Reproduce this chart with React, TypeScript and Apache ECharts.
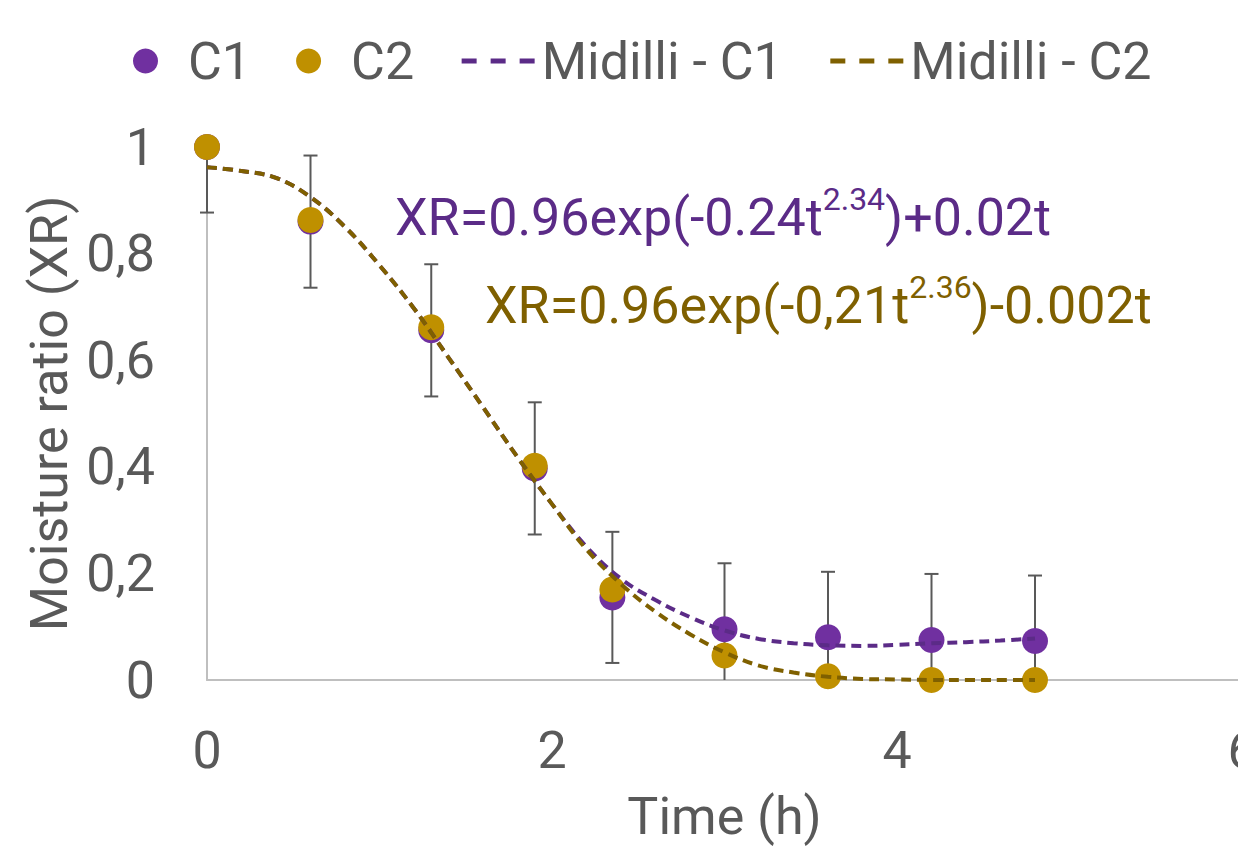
import React, { useEffect, useRef } from "react";
import * as echarts from "echarts";

// Measured data
const timeH = [0, 0.6, 1.3, 1.9, 2.35, 3.0, 3.6, 4.2, 4.8];
const c1 = [1.0, 0.86, 0.656, 0.397, 0.155, 0.095, 0.08, 0.075, 0.073];
const c2 = [1.0, 0.863, 0.662, 0.402, 0.17, 0.046, 0.007, 0.0, 0.0];
const c1Err = [0.123, 0.124, 0.124, 0.124, 0.123, 0.124, 0.123, 0.124, 0.123];

// Midilli model curves
const fitTime = [0, 0.2, 0.4, 0.6, 0.8, 1.0, 1.2, 1.4, 1.6, 1.8, 2.0, 2.2, 2.4, 2.6, 2.8, 3.0, 3.2, 3.4, 3.6, 3.8, 4.0, 4.2, 4.4, 4.6, 4.8];
const fitC1 = [0.962, 0.955, 0.942, 0.906, 0.85, 0.778, 0.697, 0.605, 0.512, 0.418, 0.33, 0.25, 0.19, 0.15, 0.118, 0.093, 0.077, 0.069, 0.065, 0.064, 0.066, 0.069, 0.071, 0.074, 0.078];
const fitC2 = [0.962, 0.955, 0.942, 0.906, 0.85, 0.778, 0.697, 0.605, 0.512, 0.418, 0.33, 0.245, 0.18, 0.128, 0.086, 0.052, 0.027, 0.014, 0.006, 0.002, 0.001, 0.0, 0.0, 0.0, 0.0];

const xTicks = [0, 2, 4, 6];
const yTicks = [0, 0.2, 0.4, 0.6, 0.8, 1];

const FONT = "Roboto";
const TXT = "#595959";
const FS = 52;

export default function App() {
  const ref = useRef<HTMLDivElement>(null);
  useEffect(() => {
    if (!ref.current) return;
    const chart = echarts.init(ref.current, null, { renderer: "svg" });
    const errData = timeH.map((t, i) => [t, c1[i] - c1Err[i], c1[i] + c1Err[i]]);
    const option: any = {
      animation: false,
      textStyle: { fontFamily: FONT },
      legend: {
        top: 30,
        left: 128,
        itemWidth: 75,
        itemHeight: 25,
        itemGap: 45,
        textStyle: { fontSize: FS, color: TXT, fontFamily: FONT },
        data: [
          { name: "C1", icon: "circle" },
          { name: "C2", icon: "circle" },
          { name: "Midilli - C1", itemStyle: { opacity: 0 }, lineStyle: { width: 5, type: [15, 14] } },
          { name: "Midilli - C2", itemStyle: { opacity: 0 }, lineStyle: { width: 5, type: [15, 14] } },
        ],
      },
      grid: { left: 207, right: -4, top: 147, bottom: 168, containLabel: false, outerBoundsMode: "none" },
      xAxis: {
        type: "value",
        min: xTicks[0],
        max: xTicks[xTicks.length - 1],
        interval: 2,
        name: "Time (h)",
        nameLocation: "middle",
        nameGap: 110,
        nameTextStyle: { fontSize: FS, color: TXT, fontFamily: FONT },
        axisLine: { show: true, lineStyle: { color: "#BFBFBF", width: 2 } },
        axisTick: { show: false },
        splitLine: { show: false },
        axisLabel: { fontSize: FS, color: TXT, margin: 44, fontFamily: FONT },
      },
      yAxis: {
        type: "value",
        min: yTicks[0],
        max: yTicks[yTicks.length - 1],
        interval: 0.2,
        name: "Moisture ratio (XR)",
        nameLocation: "middle",
        nameGap: 128,
        nameRotate: 90,
        nameTextStyle: { fontSize: FS, color: TXT, fontFamily: FONT },
        axisLine: { show: true, lineStyle: { color: "#BFBFBF", width: 2 } },
        axisTick: { show: false },
        splitLine: { show: false },
        axisLabel: {
          fontSize: FS,
          color: TXT,
          margin: 52,
          fontFamily: FONT,
          formatter: (v: number) => String(Math.round(v * 10) / 10).replace(".", ","),
        },
      },
      graphic: [
        {
          type: "text",
          left: 395,
          top: 183,
          z: 100,
          style: {
            text: "{m|XR=0.96exp(-0.24t}{s|2.34}{m|)+0.02t}",
            rich: {
              m: { fontSize: FS, fontFamily: FONT, fill: "#5B2B87", lineHeight: 60, verticalAlign: "bottom" },
              s: { fontSize: 32, fontFamily: FONT, fill: "#5B2B87", lineHeight: 46, verticalAlign: "top" },
            },
          },
        },
        {
          type: "text",
          left: 485,
          top: 271,
          z: 100,
          style: {
            text: "{m|XR=0.96exp(-0,21t}{s|2.36}{m|)-0.002t}",
            rich: {
              m: { fontSize: FS, fontFamily: FONT, fill: "#7F6000", lineHeight: 60, verticalAlign: "bottom" },
              s: { fontSize: 32, fontFamily: FONT, fill: "#7F6000", lineHeight: 46, verticalAlign: "top" },
            },
          },
        },
      ],
      series: [
        {
          name: "errC1",
          type: "custom",
          z: 1,
          silent: true,
          data: errData,
          renderItem: (params: any, api: any) => {
            const x = api.value(0);
            const lo = api.value(1);
            const hi = api.value(2);
            const loC = Math.max(0, lo);
            const hiC = Math.min(1, hi);
            const pLo = api.coord([x, loC]);
            const pHi = api.coord([x, hiC]);
            const cap = 7;
            const st = { stroke: "#595959", lineWidth: 2 };
            const children: any[] = [
              { type: "line", shape: { x1: pLo[0], y1: pLo[1], x2: pHi[0], y2: pHi[1] }, style: st },
            ];
            if (lo >= 0) children.push({ type: "line", shape: { x1: pLo[0] - cap, y1: pLo[1], x2: pLo[0] + cap, y2: pLo[1] }, style: st });
            if (hi <= 1) children.push({ type: "line", shape: { x1: pHi[0] - cap, y1: pHi[1], x2: pHi[0] + cap, y2: pHi[1] }, style: st });
            return { type: "group", children };
          },
        },
        {
          name: "C1",
          type: "scatter",
          z: 2,
          clip: false,
          symbol: "circle",
          symbolSize: 26,
          itemStyle: { color: "#7030A0", opacity: 1 },
          data: timeH.map((t, i) => [t, c1[i]]),
        },
        {
          name: "C2",
          type: "scatter",
          z: 3,
          clip: false,
          symbol: "circle",
          symbolSize: 26,
          itemStyle: { color: "#BF9000", opacity: 1 },
          data: timeH.map((t, i) => [t, c2[i]]),
        },
        {
          name: "Midilli - C1",
          type: "line",
          z: 4,
          smooth: 0.4,
          symbol: "none",
          clip: false,
          itemStyle: { color: "#5B2B87" },
          lineStyle: { color: "#5B2B87", width: 4, type: [10, 6] },
          data: fitTime.map((t, i) => [t, fitC1[i]]),
        },
        {
          name: "Midilli - C2",
          type: "line",
          z: 5,
          smooth: 0.4,
          symbol: "none",
          clip: false,
          itemStyle: { color: "#7F6000" },
          lineStyle: { color: "#7F6000", width: 4, type: [10, 6] },
          data: fitTime.map((t, i) => [t, fitC2[i]]),
        },
      ],
    };
    chart.setOption(option);
    return () => chart.dispose();
  }, []);
  return (
    <div
      ref={ref}
      style={{ position: "fixed", left: 0, top: 0, width: 1238, height: 848, background: "#fff" }}
    />
  );
}
